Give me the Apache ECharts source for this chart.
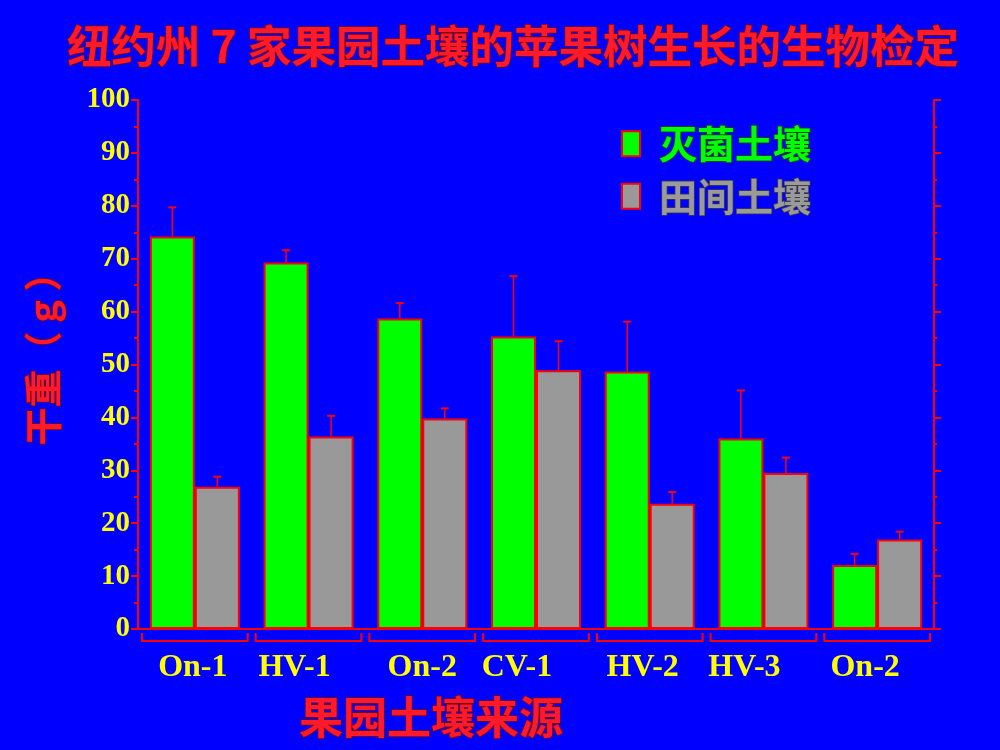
<!DOCTYPE html>
<html>
<head>
<meta charset="utf-8">
<script src="https://cdn.jsdelivr.net/npm/echarts@6/dist/echarts.min.js"></script>
<style>
html,body{margin:0;padding:0;background:#0000ff;}
#chart{width:1000px;height:750px;}
</style>
</head>
<body>
<div id="chart"></div>
<script>
const categories = ['On-1', 'HV-1', 'On-2', 'CV-1', 'HV-2', 'HV-3', 'On-2'];
const sterileValues = [74.2, 69.3, 58.7, 55.3, 48.7, 36.0, 12.1];
const sterileErrTop = [79.7, 71.6, 61.6, 66.7, 58.1, 45.1, 14.2];
const fieldValues = [26.9, 36.4, 39.8, 48.9, 23.7, 29.5, 16.9];
const fieldErrTop = [28.8, 40.3, 41.7, 54.4, 25.9, 32.4, 18.4];
const seriesNames = ['灭菌土壤', '田间土壤'];
const yTicks = [0, 10, 20, 30, 40, 50, 60, 70, 80, 90, 100];

const labelShift = [2, 14, 0, 19, 7, 19, 12];
const BAR_W = 45;
const RED = '#ff0000';

const chart = echarts.init(document.getElementById('chart'));

function errorSeries(name, tops, vals, side) {
  return {
    type: 'custom',
    name: name + '误差',
    silent: true,
    z: 5,
    data: tops.map((t, i) => [i, vals[i], t]),
    renderItem: function (params, api) {
      const c = api.coord([api.value(0), api.value(1)]);
      const t = api.coord([api.value(0), api.value(2)]);
      const x = c[0] + side * BAR_W / 2;
      return {
        type: 'group',
        children: [
          { type: 'line', shape: { x1: x, y1: c[1], x2: x, y2: t[1] }, style: { stroke: RED, lineWidth: 1.5 } },
          { type: 'line', shape: { x1: x - 4, y1: t[1], x2: x + 4, y2: t[1] }, style: { stroke: RED, lineWidth: 2 } }
        ]
      };
    }
  };
}

const shadowText = {
  textShadowColor: '#000000',
  textShadowBlur: 0,
  textShadowOffsetX: 2,
  textShadowOffsetY: 2
};

const option = {
  backgroundColor: '#0000ff',
  animation: false,
  title: {
    text: '纽约州 7 家果园土壤的苹果树生长的生物检定',
    left: 62,
    top: 19,
    textStyle: Object.assign({
      fontFamily: 'Noto Sans CJK SC',
      fontSize: 44.5,
      fontWeight: 'bold',
      color: '#ff1a2a',
      textBorderColor: '#7a0010',
      textBorderWidth: 1.5
    }, shadowText, { textShadowOffsetX: 3, textShadowOffsetY: 3 })
  },
  legend: {
    orient: 'vertical',
    left: 616,
    top: 119,
    icon: 'rect',
    itemWidth: 18,
    itemHeight: 25,
    itemGap: 13,
    selectedMode: false,
    data: [
      { name: seriesNames[0], textStyle: { color: '#00ff00', textBorderColor: '#005000' } },
      { name: seriesNames[1], textStyle: { color: '#9a9a9a', textBorderColor: '#404040' } }
    ],
    textStyle: Object.assign({
      fontFamily: 'Noto Sans CJK SC',
      fontSize: 38,
      fontWeight: 'bold',
      textBorderWidth: 1.5,
      padding: [0, 0, 0, 14]
    }, shadowText)
  },
  grid: { left: 138, right: 66, top: 100, bottom: 121, containLabel: false },
  xAxis: [
    {
      type: 'category',
      data: categories.map((c, i) => ({
        value: c,
        textStyle: { padding: [0, labelShift[i] * 2, 0, 0] }
      })),
      axisLine: { show: true, lineStyle: { color: RED, width: 2 } },
      axisTick: { show: false },
      axisLabel: Object.assign({
        margin: 23,
        fontFamily: 'Liberation Serif',
        fontSize: 32,
        fontWeight: 'bold',
        color: '#ffff00'
      }, shadowText),
      name: '果园土壤来源',
      nameLocation: 'middle',
      nameGap: 66,
      nameTextStyle: Object.assign({
        fontFamily: 'Noto Sans CJK SC',
        fontSize: 44,
        fontWeight: 'bold',
        color: '#ff1a2a',
        textBorderColor: '#7a0010',
        textBorderWidth: 1.5,
        padding: [0, 210, 0, 0]
      }, shadowText, { textShadowOffsetX: 3, textShadowOffsetY: 3 })
    },
    {
      type: 'category',
      position: 'top',
      data: categories,
      axisLine: { show: true, lineStyle: { color: RED, width: 2 } },
      axisTick: { show: false },
      axisLabel: { show: false }
    }
  ],
  yAxis: [
    {
      type: 'value',
      min: 0,
      max: 100,
      interval: 10,
      axisLine: { show: true, lineStyle: { color: RED, width: 2 } },
      axisTick: { show: true, inside: false, length: 7, lineStyle: { color: RED, width: 2 } },
      minorTick: { show: true, splitNumber: 2, length: 4, lineStyle: { color: RED, width: 2 } },
      splitLine: { show: false },
      axisLabel: Object.assign({
        margin: 8,
        fontFamily: 'Liberation Serif',
        fontSize: 29,
        fontWeight: 'bold',
        color: '#ffff00',
        formatter: function (v) { return yTicks.indexOf(v) >= 0 ? String(v) : ''; }
      }, shadowText),
      name: '干重（ g ）',
      nameLocation: 'middle',
      nameRotate: 90,
      nameGap: 76,
      nameTextStyle: Object.assign({
        fontFamily: 'Noto Sans CJK SC',
        fontSize: 38,
        fontWeight: 'bold',
        color: '#ff1a2a',
        textBorderColor: '#7a0010',
        textBorderWidth: 1.5,
        padding: [0, 0, 0, 30]
      }, shadowText, { textShadowOffsetX: 3, textShadowOffsetY: 3 })
    },
    {
      type: 'value',
      position: 'right',
      min: 0,
      max: 100,
      interval: 10,
      axisLine: { show: true, lineStyle: { color: RED, width: 2 } },
      axisTick: { show: true, inside: false, length: 7, lineStyle: { color: RED, width: 2 } },
      minorTick: { show: true, splitNumber: 2, length: 3, lineStyle: { color: RED, width: 2 } },
      splitLine: { show: false },
      axisLabel: { show: false }
    }
  ],
  series: [
    {
      name: seriesNames[0],
      type: 'bar',
      data: sterileValues,
      barWidth: BAR_W,
      barGap: '0%',
      itemStyle: { color: '#00ff00', borderColor: RED, borderWidth: 2 }
    },
    {
      name: seriesNames[1],
      type: 'bar',
      data: fieldValues,
      barWidth: BAR_W,
      barGap: '0%',
      itemStyle: { color: '#999999', borderColor: RED, borderWidth: 2 }
    },
    errorSeries(seriesNames[0], sterileErrTop, sterileValues, -1),
    errorSeries(seriesNames[1], fieldErrTop, fieldValues, 1),
    {
      type: 'custom',
      name: 'brackets',
      silent: true,
      clip: false,
      data: categories.map((c, i) => [i, 0]),
      renderItem: function (params, api) {
        const p = api.coord([api.value(0), 0]);
        const band = api.size([1, 0])[0];
        const x1 = p[0] - band / 2 + 4;
        const x2 = p[0] + band / 2 - 4;
        const y0 = p[1] + 4;
        const y1 = p[1] + 12;
        return {
          type: 'polyline',
          shape: { points: [[x1, y0], [x1, y1], [x2, y1], [x2, y0]] },
          style: { stroke: RED, lineWidth: 2, fill: null }
        };
      }
    }
  ]
};

chart.setOption(option);
</script>
</body>
</html>
